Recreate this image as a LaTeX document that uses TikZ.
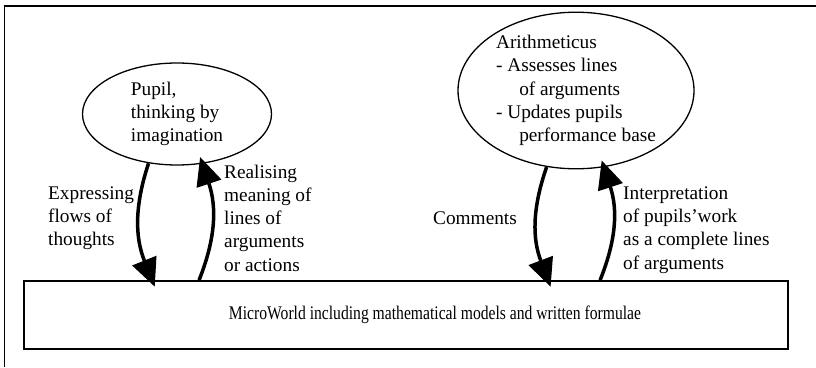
\documentclass[tikz,border=0pt]{standalone}
\usepackage{fontspec}
\setmainfont{Liberation Serif}
\newfontfamily\narrowserif[FakeStretch=0.81]{Liberation Serif}
\usetikzlibrary{arrows.meta, shapes.geometric}

\begin{document}
\begin{tikzpicture}[x=1pt, y=1pt,
    every node/.style={font=\fontsize{19.3pt}{23.3pt}\selectfont, inner sep=0pt},
    thought/.style={draw, ellipse, line width=1.3pt, align=left},
    note/.style={anchor=west, align=left},
    flow/.style={line width=3.5pt, -{Triangle[length=28pt, width=26pt, line width=1pt]}, shorten >=-7pt}]
\useasboundingbox (0,0) rectangle (816,367);
\draw[line width=1.3pt] (4.5,0) -- (4.5,361) -- (816,361);

\node[thought, minimum width=189pt, minimum height=102pt] (pupil) at (177,253)
    {Pupil,\\thinking by\\imagination};
\node[thought, minimum width=236pt, minimum height=149pt] (arith) at (576,276.5)
    {Arithmeticus\\- Assesses lines\\\hspace*{1.2em}of arguments\\- Updates pupils\\\hspace*{1.2em}performance base};
\node[draw, line width=1.8pt, minimum width=764pt, minimum height=68pt] (world) at (406,52) {};
\node at (435,52) {\narrowserif MicroWorld including mathematical models and written formulae};

% loops between pupil, arithmeticus and the microworld
\draw[flow] (pupil.240) to[bend right=20] ([xshift=129pt]world.north west);
\draw[flow] ([xshift=176pt]world.north west) to[bend right=20] (pupil.297);
\draw[flow] (arith.249) to[bend right=20] ([xshift=525pt]world.north west);
\draw[flow] ([xshift=577pt]world.north west) to[bend right=20] (arith.290);

\node[note] (express) at (48,149) {Expressing\\flows of\\thoughts};
\node[note] (realise) at (224,149) {Realising\\meaning of\\lines of\\arguments\\or actions};
\node[note] (comment) at (433,149) {Comments};
\node[note] (interpret) at (623,137) {Interpretation\\of pupils'work\\as a complete lines\\of arguments};
\end{tikzpicture}
\end{document}
